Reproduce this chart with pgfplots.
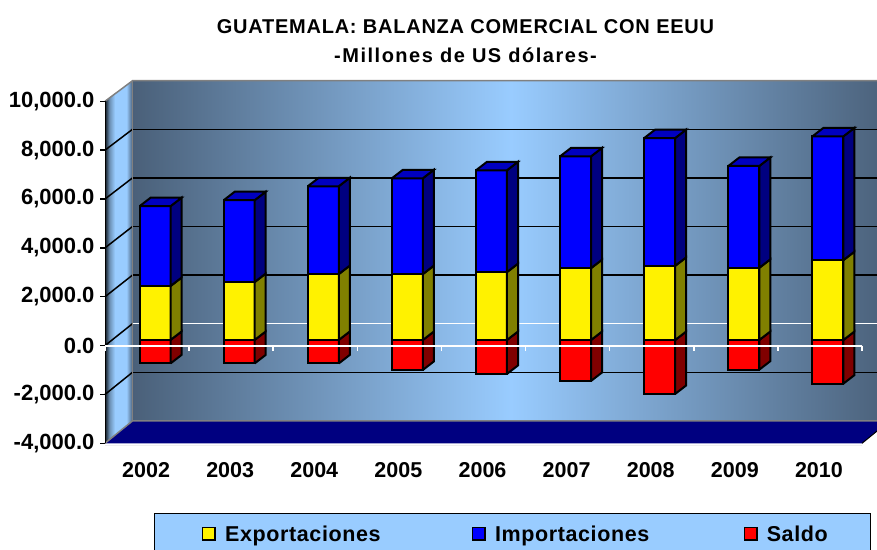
\documentclass[border=0pt]{standalone}
\usepackage{fontspec}
\setmainfont{Liberation Sans}
\usepackage{pgfplots}
\usepackage{pgfplotstable}
\pgfplotsset{compat=1.18}

\definecolor{wallend}{HTML}{4A6079}
\definecolor{wallmid}{HTML}{99CCFF}
\definecolor{walldark}{HTML}{10181F}
\definecolor{wallgray}{HTML}{808080}
\definecolor{floorblue}{HTML}{000080}
\definecolor{blueside}{HTML}{000080}
\definecolor{bluetop}{HTML}{0000C0}
\definecolor{yelside}{HTML}{808000}
\definecolor{redside}{HTML}{800000}
\definecolor{faint}{HTML}{EEEEEE}

\pgfdeclarehorizontalshading{sidewall}{100bp}{
  color(0bp)=(walldark); color(25bp)=(walldark); color(33bp)=(wallmid!70!black);
  color(43bp)=(wallmid); color(64bp)=(wallmid); color(75bp)=(wallend); color(100bp)=(wallend)}
\pgfdeclarehorizontalshading{backwall}{100bp}{
  color(0bp)=(wallend); color(25bp)=(wallend); color(50bp)=(wallmid);
  color(75bp)=(wallend); color(100bp)=(wallend)}

% x = 1..9, values in millions of US dollars
\pgfplotstableread{
x  year  exp   imp   sal
1  2002  2207  3269  -960
2  2003  2370  3351  -960
3  2004  2697  3596  -960
4  2005  2697  3923  -1226
5  2006  2779  4168  -1389
6  2007  2942  4577  -1675
7  2008  3036  5231  -2207
8  2009  2955  4168  -1214
9  2010  3269  5068  -1786
}\datatable

\newcommand{\bw}{0.184}  % half bar width, category units
\newcommand{\dpx}{0.131} % bar depth, x
\newcommand{\dpy}{348}   % bar depth, y

\tikzset{barface/.style={draw=black, line width=2pt, line join=miter, xshift=8pt, yshift=5.6pt}}
\pgfplotsset{legbox/.style={legend image code/.code={
    \draw[##1, draw=black, line width=1.5pt, fill] (-8pt,-11.5pt) rectangle (4.5pt,1pt);
    \path[draw=none, fill=none] (-15pt,-5pt) -- (12.5pt,-5pt);}}}

% right side face of one bar segment
\newcommand{\sideface}[4]{%
  \pgfmathsetmacro{\xa}{#1+\bw}%
  \pgfmathsetmacro{\xb}{#1+\bw+\dpx}%
  \pgfmathsetmacro{\ya}{#2+\dpy}%
  \pgfmathsetmacro{\yb}{#3+\dpy}%
  \edef\temp{\noexpand\addplot[forget plot, barface, fill=#4]
    coordinates {(\xa,#2) (\xb,\ya) (\xb,\yb) (\xa,#3) (\xa,#2)};}\temp}
% top face of the stack
\newcommand{\topface}[3]{%
  \pgfmathsetmacro{\xa}{#1-\bw}%
  \pgfmathsetmacro{\xb}{#1+\bw}%
  \pgfmathsetmacro{\xc}{#1+\bw+\dpx}%
  \pgfmathsetmacro{\xd}{#1-\bw+\dpx}%
  \pgfmathsetmacro{\ya}{#2+\dpy}%
  \edef\temp{\noexpand\addplot[forget plot, barface, fill=#3]
    coordinates {(\xa,#2) (\xb,#2) (\xc,\ya) (\xd,\ya) (\xa,#2)};}\temp}
% wall line: front value, value on the back wall
\newcommand{\wallline}[3]{%
  \draw[black, line width=1.5pt] (axis cs:0.5,#1) -- (axis cs:0.827,#2);
  \draw[#3, line width=1.5pt] (axis cs:0.827,#2) -- (axis cs:9.827,#2);}

\begin{document}
\begin{tikzpicture}
\path[use as bounding box, clip] (0,0) rectangle (877pt,549pt);
\begin{axis}[
  at={(105pt,105.7pt)}, anchor=south west,
  scale only axis, width=757pt, height=342pt,
  xmin=0.5, xmax=9.5, ymin=-4000, ymax=10000,
  clip=false,
  axis line style={draw=none},
  xtick={1,...,9},
  xticklabels={2002,2003,2004,2005,2006,2007,2008,2009,2010},
  ytick={-4000,-2000,0,2000,4000,6000,8000,10000},
  scaled y ticks=false,
  tick align=outside, xtick pos=bottom, ytick pos=left,
  x tick style={draw=none}, y tick style={black, line width=1.5pt},
  major tick length=5pt,
  yticklabel style={font=\bfseries\fontsize{22}{24}\selectfont, text=black, xshift=-2pt},
  xticklabel style={font=\bfseries\fontsize{21.5}{24}\selectfont, text=black, yshift=-11pt, xshift=-1pt},
  /pgf/number format/fixed,
  /pgf/number format/fixed zerofill,
  /pgf/number format/precision=1,
  /pgf/number format/1000 sep={,},
  /pgf/number format/assume math mode=true,
  title style={at={(0.5,1)}, anchor=south, align=center, xshift=-18pt, yshift=28.6pt,
    font=\bfseries\fontsize{20}{29.5}\selectfont},
  title={{\addfontfeature{LetterSpace=3.8}GUATEMALA: BALANZA COMERCIAL CON EEUU}\\
    {\addfontfeature{LetterSpace=7.6}-Millones de US dólares-}},
  legend columns=3,
  legend cell align=left,
  legend style={at={(0.0647,-0.2029)}, anchor=north west,
    fill=wallmid, draw=black, line width=1.5pt,
    font=\bfseries\fontsize{21.5}{26}\selectfont\addfontfeature{LetterSpace=2.8},
    inner xsep=41pt, inner ysep=10pt,
    /tikz/column 2/.style={column sep=83pt},
    /tikz/column 4/.style={column sep=86pt}},
]
  % walls and floor
  \shade[shading=backwall]
    (axis cs:0.827,-3083) rectangle (axis cs:9.827,10843);
  \shade[shading=sidewall]
    (axis cs:0.5,-4000) -- (axis cs:0.827,-3083) -- (axis cs:0.827,10843) -- (axis cs:0.5,10000) -- cycle;
  \fill[floorblue]
    (axis cs:0.5,-4000) -- (axis cs:9.5,-4000) -- (axis cs:9.827,-3083) -- (axis cs:0.827,-3083) -- cycle;

  \wallline{-2000}{-1093}{black}
  \wallline{2000}{2885}{black}
  \wallline{4000}{4875}{black}
  \wallline{6000}{6864}{black}
  \wallline{8000}{8854}{black}
  \wallline{0}{896}{white}
  \draw[wallgray, line width=1.5pt] (axis cs:0.5,10000) -- (axis cs:0.827,10843) -- (axis cs:9.827,10843);
  \draw[wallgray, line width=1.5pt] (axis cs:0.5,-4000) -- (axis cs:0.827,-3083) -- (axis cs:9.827,-3083);
  \draw[wallgray, line width=1.5pt] (axis cs:0.827,-3083) -- (axis cs:0.827,10843);
  \draw[black, line width=1pt] (axis cs:0.5,-4000) -- (axis cs:0.5,10000);
  \draw[black, line width=1pt] (axis cs:9.5,-4000) -- (axis cs:9.827,-3083);

  % front faces, stacked upward; saldo hangs from zero
  \addplot[ybar stacked, bar width=31pt, barface, fill=yellow, legbox]
    table[x=x, y=exp] {\datatable};
  \addlegendentry{Exportaciones}
  \addplot[ybar stacked, bar width=31pt, barface, fill=blue, legbox]
    table[x=x, y=imp] {\datatable};
  \addlegendentry{Importaciones}
  \addplot[ybar, bar shift=0pt, stack plots=false, bar width=31pt, barface, fill=red, legbox]
    table[x=x, y=sal] {\datatable};
  \addlegendentry{Saldo}

  % side and top faces from the same table
  \pgfplotsinvokeforeach{0,...,8}{
    \pgfplotstablegetelem{#1}{x}\of{\datatable}\let\cx\pgfplotsretval
    \pgfplotstablegetelem{#1}{exp}\of{\datatable}\let\ve\pgfplotsretval
    \pgfplotstablegetelem{#1}{imp}\of{\datatable}\let\vi\pgfplotsretval
    \pgfplotstablegetelem{#1}{sal}\of{\datatable}\let\vs\pgfplotsretval
    \pgfmathtruncatemacro{\vt}{\ve+\vi}
    \sideface{\cx}{\vs}{0}{redside}
    \sideface{\cx}{0}{\ve}{yelside}
    \sideface{\cx}{\ve}{\vt}{blueside}
    \topface{\cx}{\vt}{bluetop}
  }

  % front zero line with its white ticks, faint base line
  \draw[white, line width=2pt] (axis cs:0.5,0) -- (axis cs:9.5,0);
  \draw[faint, line width=1pt] (axis cs:0.5,-4080) -- (axis cs:9.5,-4080);
  \foreach \k in {0.5,1.5,2.5,3.5,4.5,5.5,6.5,7.5,8.5,9.5}{
    \edef\temp{\noexpand\draw[white, line width=1.5pt] (axis cs:\k,0) -- ++(0pt,-5pt);}\temp
  }
\end{axis}
\end{tikzpicture}
\end{document}
